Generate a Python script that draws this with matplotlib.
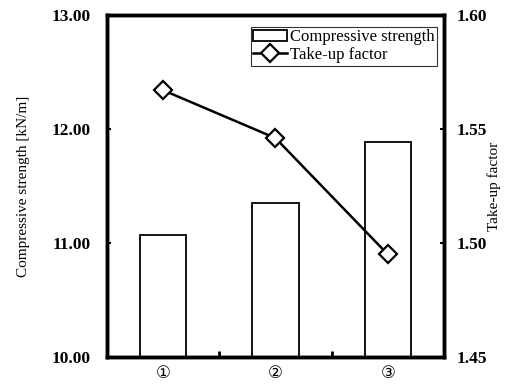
import numpy as np
import matplotlib
matplotlib.use("Agg")
import matplotlib.pyplot as plt

# ----- data -----
categories = ["①", "②", "③"]
strength = [11.07, 11.35, 11.89]      # kN/m, bars (left axis)
takeup = [1.567, 1.546, 1.495]        # line (right axis)

plt.rcParams["font.family"] = ["Liberation Serif", "DejaVu Sans"]

fig = plt.figure(figsize=(5.24, 3.92), dpi=100)
ax = fig.add_axes([107 / 524, 1 - 357 / 392, 337 / 524, 342 / 392])
ax2 = ax.twinx()

x = np.arange(len(categories))
bars = ax.bar(x, strength, width=0.41, color="white", edgecolor="black",
              linewidth=1.3, label="Compressive strength", zorder=2)
line, = ax2.plot(x, takeup, color="black", linewidth=1.8, marker="D",
                 markersize=9, markerfacecolor="white", markeredgecolor="black",
                 markeredgewidth=1.6, label="Take-up factor")

ax.set_xlim(-0.5, 2.5)
ax.set_ylim(10, 13)
ax2.set_ylim(1.45, 1.60)
ax.set_yticks([10, 11, 12, 13])
ax.set_yticklabels(["10.00", "11.00", "12.00", "13.00"], fontweight="bold", fontsize=12.5)
ax2.set_yticks([1.45, 1.50, 1.55, 1.60])
ax2.set_yticklabels(["1.45", "1.50", "1.55", "1.60"], fontweight="bold", fontsize=12.5)

# category labels centered, tick marks between categories
ax.set_xticks(x)
ax.set_xticklabels(categories, fontsize=12, family=["DejaVu Sans"])
ax.tick_params(axis="x", length=0, pad=5)
ax.set_xticks([0.5, 1.5], minor=True)
ax.tick_params(axis="x", which="minor", direction="in", length=4, width=2)

ax.tick_params(axis="y", direction="in", length=3, width=1.5, pad=12)
ax2.tick_params(axis="y", direction="in", length=3, width=1.5, pad=9)

for a in (ax, ax2):
    for s in a.spines.values():
        s.set_linewidth(2.5)

ax.set_ylabel("Compressive strength [kN/m]", fontsize=11, labelpad=15)
ax2.set_ylabel("Take-up factor", fontsize=11, labelpad=0)

leg = ax2.legend([bars, line], ["Compressive strength", "Take-up factor"],
                 loc="upper right", bbox_to_anchor=(0.98, 0.965),
                 fontsize=12, frameon=True, fancybox=False, borderpad=0.15,
                 handlelength=2.0, handletextpad=0.2, labelspacing=0.1,
                 borderaxespad=0.0)
leg.get_frame().set_edgecolor("black")
leg.get_frame().set_linewidth(0.8)

fig.savefig("out.png", dpi=100)
